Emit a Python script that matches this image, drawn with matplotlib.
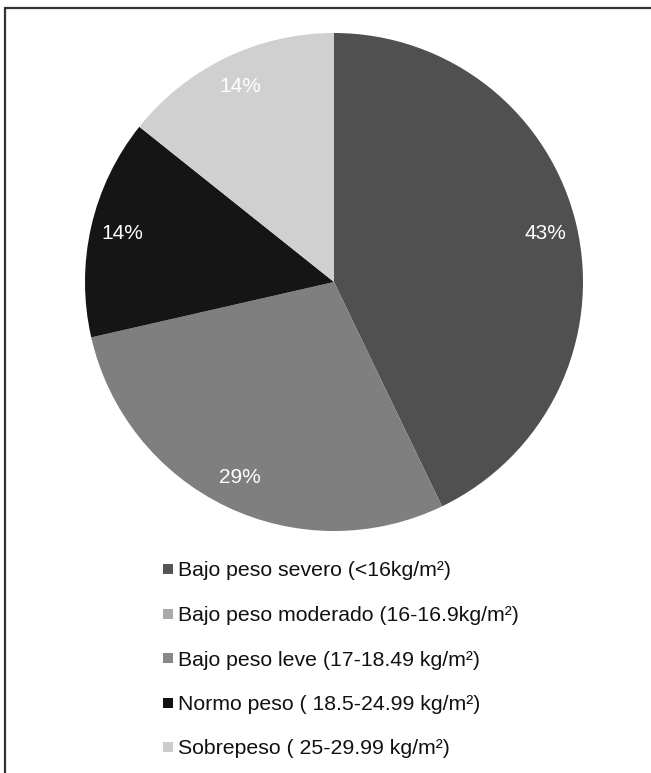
import matplotlib
matplotlib.use("Agg")
import matplotlib.pyplot as plt
from matplotlib.patches import Rectangle

plt.rcParams['font.family'] = ['Liberation Sans', 'DejaVu Sans']

# Patient counts by BMI category
categories = [
    "Bajo peso severo (<16kg/m²)",
    "Bajo peso moderado (16-16.9kg/m²)",
    "Bajo peso leve (17-18.49 kg/m²)",
    "Normo peso ( 18.5-24.99 kg/m²)",
    "Sobrepeso ( 25-29.99 kg/m²)",
]
counts = [3, 0, 2, 1, 1]
slice_colors = ["#505050", "#a8a8a8", "#7f7f7f", "#151515", "#d0d0d0"]
legend_colors = ["#555555", "#aaaaaa", "#888888", "#111111", "#cccccc"]

W, H = 651, 773
fig = plt.figure(figsize=(W / 100, H / 100), dpi=100)
fig.patch.set_facecolor("white")

# Frame around the chart (runs off the right and bottom edges)
fig.add_artist(Rectangle((5 / W, -0.05), 1.1, 1 - 8 / H + 0.05,
                         transform=fig.transFigure, fill=False,
                         edgecolor="#333333", linewidth=1.6))

# Pie axes
cx, cy, r = 334, 282, 249
ax = fig.add_axes([(cx - r) / W, (H - cy - r) / H, 2 * r / W, 2 * r / H])


def pct_label(p):
    return f"{p:.0f}%" if p > 0.5 else ""


wedges, texts, autotexts = ax.pie(
    counts, colors=slice_colors, startangle=90, counterclock=False,
    radius=1.0, autopct=pct_label, pctdistance=0.87,
    wedgeprops=dict(linewidth=0),
    textprops=dict(color="white", fontsize=15),
)
ax.set_xlim(-1, 1)
ax.set_ylim(-1, 1)
ax.set_aspect("equal")
ax.axis("off")

# Legend entries
y0, dy = 569, 44.5
sq = 10
for i, (lab, col) in enumerate(zip(categories, legend_colors)):
    y = y0 + i * dy
    fig.add_artist(Rectangle((163 / W, (H - y - sq / 2) / H), sq / W, sq / H,
                             transform=fig.transFigure, facecolor=col,
                             edgecolor="none"))
    fig.text(178 / W, (H - y) / H, lab, fontsize=15.3, color="#111111",
             ha="left", va="center_baseline")

fig.savefig("out.png", dpi=100, facecolor="white")
